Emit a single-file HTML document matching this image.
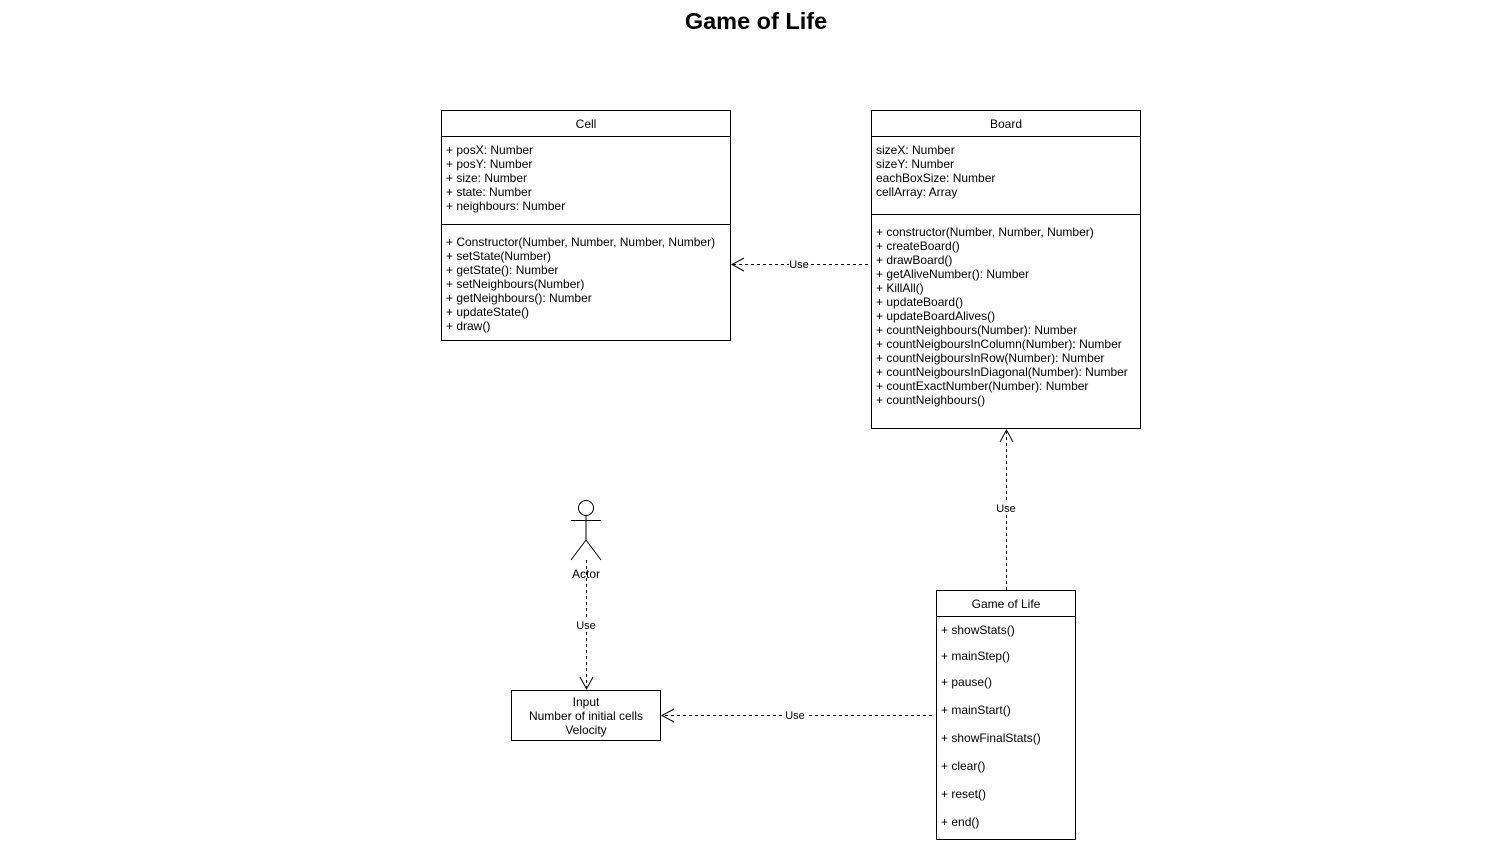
<!DOCTYPE html>
<html><head><meta charset="utf-8"><style>
html,body{margin:0;padding:0;background:#fff;}
svg{display:block;}
text{font-family:"Liberation Sans",Arial,sans-serif;font-size:12px;fill:#000;}
</style></head><body>
<svg width="1511" height="844" viewBox="0 0 1511 844" xmlns="http://www.w3.org/2000/svg">
<text x="756" y="29" text-anchor="middle" style="font-size:23.5px;font-weight:bold">Game of Life</text>

<rect x="441.5" y="110.5" width="289" height="230" fill="#fff" stroke="#000"/>
<line x1="441" y1="136.5" x2="731" y2="136.5" stroke="#000"/>
<line x1="441" y1="224.5" x2="731" y2="224.5" stroke="#000"/>
<text x="586" y="128" text-anchor="middle">Cell</text>
<text x="446" y="154">+ posX: Number</text>
<text x="446" y="168">+ posY: Number</text>
<text x="446" y="182">+ size: Number</text>
<text x="446" y="196">+ state: Number</text>
<text x="446" y="210">+ neighbours: Number</text>
<text x="446" y="246">+ Constructor(Number, Number, Number, Number)</text>
<text x="446" y="260">+ setState(Number)</text>
<text x="446" y="274">+ getState(): Number</text>
<text x="446" y="288">+ setNeighbours(Number)</text>
<text x="446" y="302">+ getNeighbours(): Number</text>
<text x="446" y="316">+ updateState()</text>
<text x="446" y="330">+ draw()</text>

<rect x="871.5" y="110.5" width="269" height="318" fill="#fff" stroke="#000"/>
<line x1="871" y1="136.5" x2="1141" y2="136.5" stroke="#000"/>
<line x1="871" y1="214.5" x2="1141" y2="214.5" stroke="#000"/>
<text x="1006" y="128" text-anchor="middle">Board</text>
<text x="876" y="154">sizeX: Number</text>
<text x="876" y="168">sizeY: Number</text>
<text x="876" y="182">eachBoxSize: Number</text>
<text x="876" y="196">cellArray: Array</text>
<text x="876" y="236">+ constructor(Number, Number, Number)</text>
<text x="876" y="250">+ createBoard()</text>
<text x="876" y="264">+ drawBoard()</text>
<text x="876" y="278">+ getAliveNumber(): Number</text>
<text x="876" y="292">+ KillAll()</text>
<text x="876" y="306">+ updateBoard()</text>
<text x="876" y="320">+ updateBoardAlives()</text>
<text x="876" y="334">+ countNeighbours(Number): Number</text>
<text x="876" y="348">+ countNeigboursInColumn(Number): Number</text>
<text x="876" y="362">+ countNeigboursInRow(Number): Number</text>
<text x="876" y="376">+ countNeigboursInDiagonal(Number): Number</text>
<text x="876" y="390">+ countExactNumber(Number): Number</text>
<text x="876" y="404">+ countNeighbours()</text>

<rect x="936.5" y="590.5" width="139" height="249" fill="#fff" stroke="#000"/>
<line x1="936" y1="616.5" x2="1076" y2="616.5" stroke="#000"/>
<text x="1006" y="608" text-anchor="middle">Game of Life</text>
<text x="941" y="634">+ showStats()</text>
<text x="941" y="660">+ mainStep()</text>
<text x="941" y="686">+ pause()</text>
<text x="941" y="714">+ mainStart()</text>
<text x="941" y="742">+ showFinalStats()</text>
<text x="941" y="770">+ clear()</text>
<text x="941" y="798">+ reset()</text>
<text x="941" y="826">+ end()</text>

<rect x="511.5" y="690.5" width="149" height="50" fill="#fff" stroke="#000"/>
<text x="586" y="706" text-anchor="middle">Input</text>
<text x="586" y="720" text-anchor="middle">Number of initial cells</text>
<text x="586" y="734" text-anchor="middle">Velocity</text>

<g stroke="#000" fill="none" stroke-width="1">
<circle cx="586" cy="508" r="7.5" fill="#fff"/>
<line x1="586" y1="515.5" x2="586" y2="540"/>
<line x1="571" y1="520.5" x2="601" y2="520.5"/>
<line x1="586" y1="540" x2="571" y2="560"/>
<line x1="586" y1="540" x2="601" y2="560"/>
</g>
<text x="586" y="578" text-anchor="middle">Actor</text>

<g stroke="#000" fill="none" stroke-dasharray="3,3">
<line x1="868" y1="264.5" x2="733" y2="264.5"/>
<line x1="1006.5" y1="590" x2="1006.5" y2="431"/>
<line x1="586.5" y1="560" x2="586.5" y2="688"/>
<line x1="932" y1="715.5" x2="663" y2="715.5"/>
</g>
<g stroke="#000" fill="none">
<polyline points="744,258 732,264.5 744,271"/>
<polyline points="1000,442 1006.5,430 1013,442"/>
<polyline points="580,677 586.5,689 593,677"/>
<polyline points="674,709 662,715.5 674,722"/>
</g>
<g>
<rect x="789" y="257" width="20" height="14" fill="#fff"/>
<text x="799" y="268" text-anchor="middle" style="font-size:11px">Use</text>
<rect x="996" y="501" width="21" height="14" fill="#fff"/>
<text x="1006" y="512" text-anchor="middle" style="font-size:11px">Use</text>
<rect x="576" y="618" width="21" height="14" fill="#fff"/>
<text x="586" y="629" text-anchor="middle" style="font-size:11px">Use</text>
<rect x="785" y="708" width="21" height="14" fill="#fff"/>
<text x="795" y="719" text-anchor="middle" style="font-size:11px">Use</text>
</g>
</svg>
</body></html>
